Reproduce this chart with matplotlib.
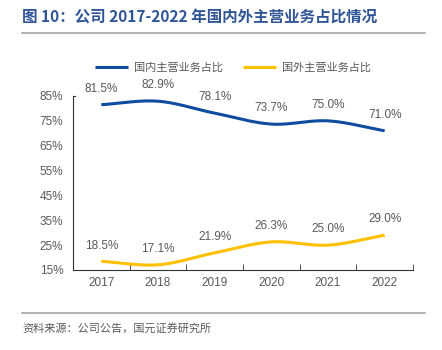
import matplotlib.pyplot as plt
import numpy as np

plt.rcParams['font.family'] = ['Noto Sans CJK SC', 'DejaVu Sans']
plt.rcParams['axes.unicode_minus'] = False

years = ['2017', '2018', '2019', '2020', '2021', '2022']
domestic = [81.5, 82.9, 78.1, 73.7, 75.0, 71.0]
overseas = [18.5, 17.1, 21.9, 26.3, 25.0, 29.0]
yticks = [15, 25, 35, 45, 55, 65, 75, 85]

BLUE = '#0F4C9F'
YELLOW = '#FFC000'
GREY = '#595959'
NUM_FONT = ['Liberation Sans', 'DejaVu Sans']


def smooth(x, y, n=30):
    # Catmull-Rom 平滑曲线
    x = np.asarray(x, float)
    y = np.asarray(y, float)
    px = np.concatenate([[2 * x[0] - x[1]], x, [2 * x[-1] - x[-2]]])
    py = np.concatenate([[2 * y[0] - y[1]], y, [2 * y[-1] - y[-2]]])
    xs, ys = [], []
    t = np.linspace(0, 1, n)
    for i in range(1, len(px) - 2):
        for p, out in ((px, xs), (py, ys)):
            p0, p1, p2, p3 = p[i - 1], p[i], p[i + 1], p[i + 2]
            out.extend(0.5 * (2 * p1 + (-p0 + p2) * t
                              + (2 * p0 - 5 * p1 + 4 * p2 - p3) * t ** 2
                              + (-p0 + 3 * p1 - 3 * p2 + p3) * t ** 3))
    return xs, ys


fig = plt.figure(figsize=(4.42, 3.5), dpi=100)
ax = fig.add_axes([73 / 442, 80 / 350, 340 / 442, 174 / 350])

x = np.arange(len(years))
sx, sy = smooth(x, domestic)
ax.plot(sx, sy, color=BLUE, linewidth=2.2, label='国内主营业务占比', solid_capstyle='butt')
sx, sy = smooth(x, overseas)
ax.plot(sx, sy, color=YELLOW, linewidth=2.2, label='国外主营业务占比', solid_capstyle='butt')

for xi, v in zip(x, domestic):
    ax.annotate(f'{v:.1f}%', (xi, v), xytext=(0, 7), textcoords='offset points',
                ha='center', va='bottom', fontsize=8.5, color=GREY, family=NUM_FONT)
for xi, v in zip(x, overseas):
    ax.annotate(f'{v:.1f}%', (xi, v), xytext=(0, 7), textcoords='offset points',
                ha='center', va='bottom', fontsize=8.5, color=GREY, family=NUM_FONT)

ax.set_xlim(-0.5, len(years) - 0.5)
ax.set_ylim(15, 85)
ax.set_yticks(yticks)
ax.set_yticklabels([f'{t}%' for t in yticks], fontsize=8.5, color=GREY, family=NUM_FONT)
ax.set_xticks(x)
ax.set_xticklabels(years, fontsize=8.5, color=GREY, family=NUM_FONT)
ax.set_xticks(np.arange(-0.5, len(years)), minor=True)
ax.tick_params(axis='x', which='major', length=0, pad=5)
ax.tick_params(axis='x', which='minor', length=4, direction='in', color='#333333')
ax.tick_params(axis='y', length=0, pad=7)
for s in ['top', 'right']:
    ax.spines[s].set_visible(False)
ax.spines['left'].set_color('#333333')
ax.spines['bottom'].set_color('#333333')
ax.spines['left'].set_bounds(15, 85)
# 顶部的小刻度
ax.plot([-0.5, -0.47], [85, 85], color='#333333', linewidth=0.8, clip_on=False)

leg = ax.legend(loc='center', bbox_to_anchor=(0.47, 1.165), ncol=2, frameon=False,
                fontsize=8, handlelength=3.0, columnspacing=1.8, handletextpad=0.5)
for t in leg.get_texts():
    t.set_color(GREY)

# 标题与来源
fig.text(22 / 442, 1 - 18 / 350, '图 10：公司 2017-2022 年国内外主营业务占比情况',
         fontsize=11.2, fontweight='bold', color='#2F5597', va='center', ha='left')
fig.add_artist(plt.Line2D([22 / 442, 425 / 442], [1 - 33 / 350] * 2, color='#A6A6A6', linewidth=1.2))
fig.add_artist(plt.Line2D([22 / 442, 425 / 442], [1 - 313 / 350] * 2, color='#A6A6A6', linewidth=1.2))
fig.text(22 / 442, 1 - 328 / 350, '资料来源：公司公告，国元证券研究所',
         fontsize=8, color=GREY, va='center', ha='left')

fig.savefig('out.png', dpi=100)
